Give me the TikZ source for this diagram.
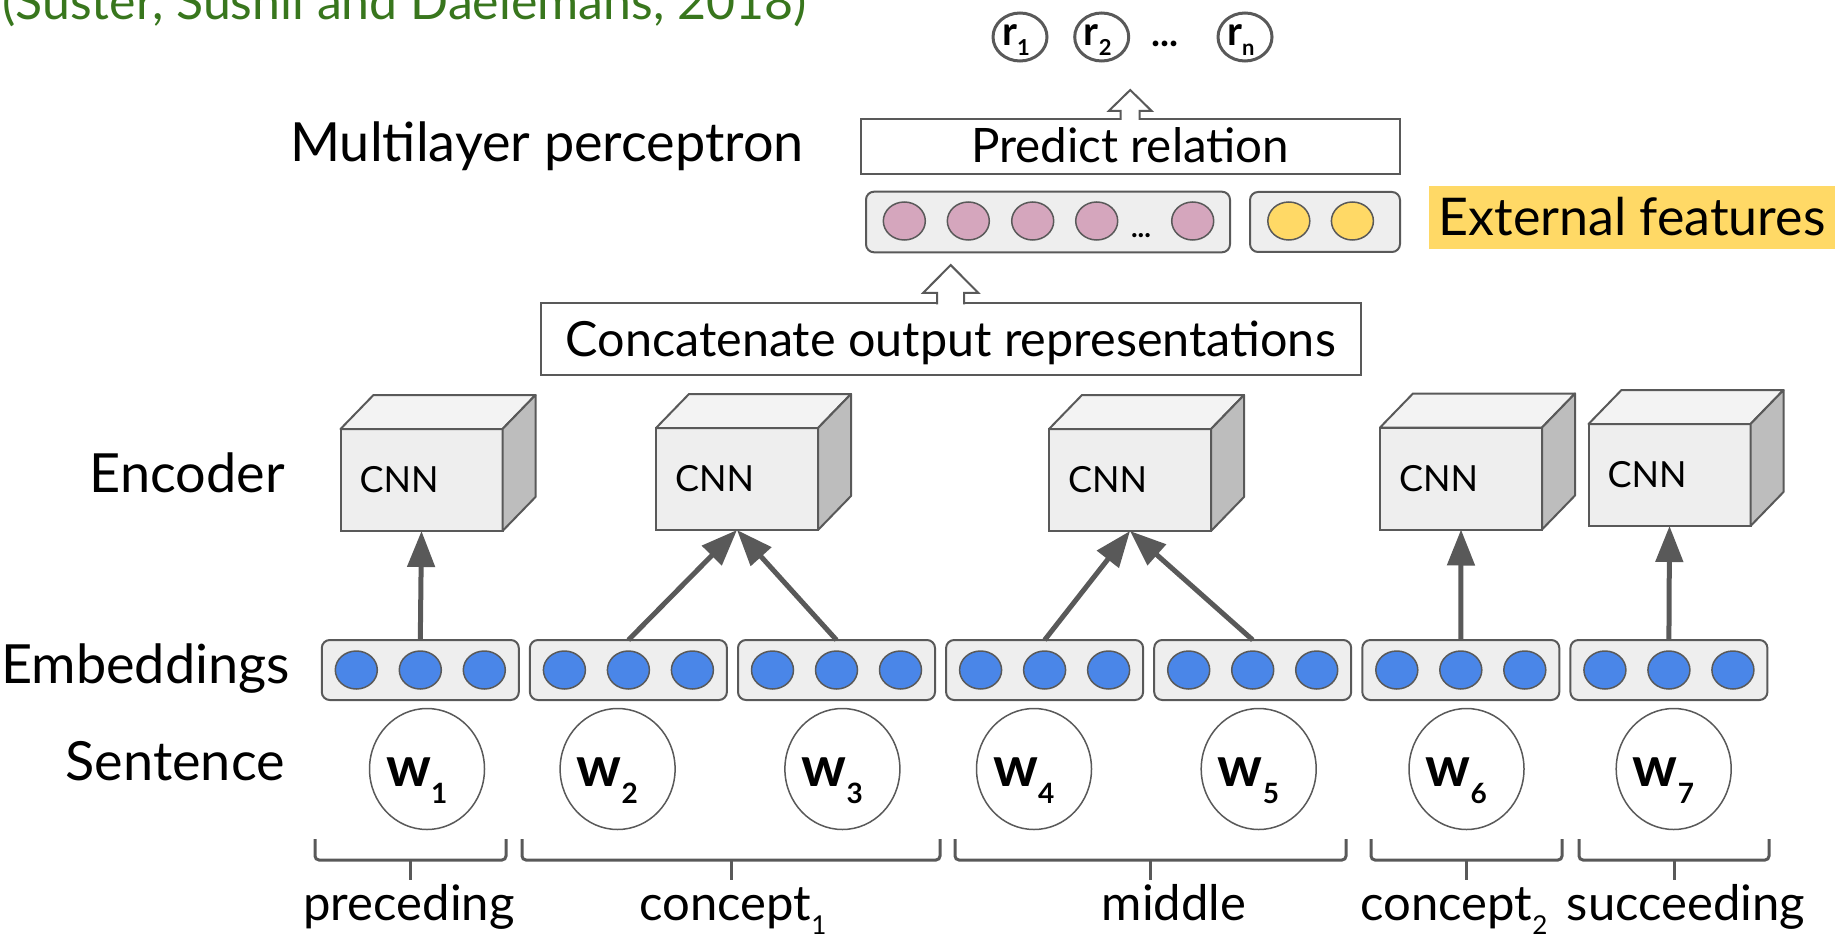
\documentclass[tikz,border=0pt]{standalone}
\usepackage{fontspec}
\setmainfont{Lato}
\usepackage{tikz}
\usetikzlibrary{arrows.meta,shapes.geometric,calc}
\definecolor{linegray}{HTML}{595959}
\definecolor{boxgray}{HTML}{EEEEEE}
\definecolor{topgray}{HTML}{F3F3F3}
\definecolor{sidegray}{HTML}{BDBDBD}
\definecolor{embblue}{HTML}{4A86E8}
\definecolor{featpink}{HTML}{D5A6BD}
\definecolor{featyellow}{HTML}{FFD966}
\definecolor{citegreen}{HTML}{38761D}
\newcommand{\fsize}[1]{\fontsize{#1}{#1}\selectfont}
% lowered index: #1 drop, #2 size, #3 base text, #4 index
\newcommand{\subtext}[4]{#3\raisebox{-#1pt}{\fsize{#2}#4}}
\tikzstyle{citation}=[font=\fsize{50}, text=citegreen, anchor=base west, inner sep=0pt]
\tikzstyle{rowlabel}=[font=\fsize{54}, anchor=base east, inner sep=0pt]
\tikzstyle{plainbox}=[draw=linegray, line width=2pt, fill=white, inner sep=0pt, outer sep=0pt, font=\fsize{48.5}, text height=34pt, text depth=0pt]
\tikzstyle{cnnbox}=[draw=linegray, line width=2pt, fill=boxgray, minimum width=162pt, minimum height=102pt, text width=124pt, inner xsep=19pt, inner ysep=0pt, outer sep=0pt, align=left, font=\fsize{36}]
\tikzstyle{cubetop}=[draw=linegray, line width=2pt, fill=topgray, line join=round]
\tikzstyle{cubeside}=[draw=linegray, line width=2pt, fill=sidegray, line join=round]
\tikzstyle{embbox}=[draw=linegray, line width=2pt, fill=boxgray, rounded corners=8pt, minimum width=197pt, minimum height=60pt, inner sep=0pt, outer sep=0pt]
\tikzstyle{unit}=[ellipse, draw=linegray, line width=1.5pt, minimum width=42pt, minimum height=38pt, inner sep=0pt]
\tikzstyle{word}=[ellipse, draw=linegray, line width=1.5pt, fill=white, minimum width=115pt, minimum height=121pt, inner sep=0pt]
\tikzstyle{wordtext}=[font=\bfseries\fsize{56}, anchor=base west, inner sep=0pt]
\tikzstyle{rel}=[ellipse, draw=linegray, line width=3pt, minimum width=54pt, minimum height=48pt, inner sep=0pt]
\tikzstyle{reltext}=[font=\bfseries\fsize{40}, anchor=base west, inner sep=0pt]
\tikzstyle{edge}=[draw=linegray, line width=5pt, -{Triangle[length=36pt,width=27pt]}]
\tikzstyle{hollow}=[draw=linegray, line width=2pt, fill=white, line join=miter]
\tikzstyle{brace}=[draw=linegray, line width=3pt, rounded corners=4pt]
\tikzstyle{bracelabel}=[font=\fsize{49}, anchor=base, inner sep=0pt]
\tikzstyle{highlight}=[fill=featyellow, minimum width=406pt, minimum height=63pt, inner sep=0pt, font=\fsize{52}, text height=36pt, text depth=0pt]

\begin{document}
\begin{tikzpicture}[x=1pt, y=-1pt]
    \useasboundingbox (0,0) rectangle (1835,941);

    % Reference, cut off at the top
    \node[citation] (cite) at (2,20) {(Šuster, Sushil and Daelemans, 2018)};

    % First we draw the row labels
    \node[rowlabel, anchor=base] (mlp) at (547,161.7) {Multilayer perceptron};
    \foreach \pos/\name/\text in {{(285,492.7)/encoder/Encoder},{(290,683.3)/embeddings/Embeddings},{(285,780)/sentence/Sentence}}
        \node[rowlabel] (\name) at \pos {\text};

    % Sentence: the words
    \foreach \x/\i in {427/1, 617.6/2, 842.4/3, 1034/4, 1258.7/5, 1466.5/6, 1673.7/7} {
        \node[word] (w\i) at (\x,769) {};
        \node[wordtext] (wt\i) at ($(w\i)+(-41,17)$) {\subtext{17}{28}{w}{\i}};
    }

    % Embeddings: three units per word
    \foreach \i in {1,...,7} {
        \node[embbox] (e\i) at ({212.2+208.1*\i},670) {};
        \foreach \j/\dx in {a/-64, b/0, c/64}
            \node[unit, fill=embblue] (e\i\j) at ($(e\i)+(\dx,0)$) {};
    }

    % Encoder: one CNN per segment
    \foreach \pos/\name in {{(421.5,480)/cnn1},{(737,479)/cnn2},{(1130,480)/cnn3},{(1461,478.5)/cnn4},{(1669.5,475)/cnn5}} {
        \node[cnnbox] (\name) at \pos {CNN};
        \path[cubetop] (\name.north west) -- ++(33,-34) -- ($(\name.north east)+(33,-34)$) -- (\name.north east) -- cycle;
        \path[cubeside] (\name.north east) -- ++(33,-34) -- ($(\name.south east)+(33,-34)$) -- (\name.south east) -- cycle;
    }

    % Connect embeddings with the encoders
    \foreach \source/\dest in {e1/cnn1, e2/cnn2, e3/cnn2, e4/cnn3, e5/cnn3, e6/cnn4, e7/cnn5}
        \path[edge] (\source.north) -- (\dest.south);

    % Braces under the words
    \foreach \l/\r/\m in {315/506/410, 522/940/731, 955/1346/1150, 1371/1562/1466, 1579/1769/1674} {
        \path[brace] (\l,839) -- (\l,860) -- (\r,860) -- (\r,839);
        \path[brace] (\m,860) -- (\m,880);
    }
    \node[bracelabel] (preceding) at (409,920) {preceding};
    \node[bracelabel] (concept1) at (733,920) {\subtext{14}{26}{concept}{1}};
    \node[bracelabel] (middle) at (1174,920) {middle};
    \node[bracelabel] (concept2) at (1454,920) {\subtext{14}{26}{concept}{2}};
    \node[bracelabel] (succeeding) at (1686,920) {succeeding};

    % Concatenation and prediction
    \node[plainbox, minimum width=820pt, minimum height=71.7pt] (concat) at (950.7,339.2) {Concatenate output representations};
    \node[plainbox, minimum width=539pt, minimum height=55pt, text height=32pt, font=\fsize{47.5}] (predict) at (1130.2,146.5) {Predict relation};

    % Output representation and external features
    \node[embbox, minimum width=364pt, minimum height=60.6pt] (feat) at (1048,222) {};
    \node[embbox, minimum width=150pt, minimum height=60pt] (ext) at (1325,222) {};
    \foreach \x/\name in {904.3/p1, 968.3/p2, 1032.7/p3, 1096.7/p4, 1192.7/p5}
        \node[unit, fill=featpink] (\name) at (\x,221) {};
    \node[font=\bfseries\fsize{28}, anchor=base, inner sep=0pt] (pdots) at (1141,237) {...};
    \foreach \x/\name in {1288.8/y1, 1352.4/y2}
        \node[unit, fill=featyellow] (\name) at (\x,221) {};
    \node[highlight] (extlabel) at (1632,217.7) {External features};

    % Relation classes
    \foreach \x/\i in {1020/1, 1101.7/2, 1245/n} {
        \node[rel] (r\i) at (\x,37) {};
        \node[reltext] (rt\i) at ($(r\i)+(-18,9)$) {\subtext{10}{22}{r}{\i}};
    }
    \node[reltext, anchor=base, font=\bfseries\fsize{38}] (rdots) at (1165,47) {...};

    % Hollow arrows between the stages
    \draw[hollow] ($(concat.north)+(-13.5,1)$) -- ++(0,-11.6) -- ++(-14,0) -- ++(27.5,-27.7) -- ++(27.5,27.7) -- ++(-14,0) -- ++(0,11.6);
    \draw[hollow] ($(predict.north)+(-9.5,1)$) -- ++(0,-9) -- ++(-12,0) -- ++(21.5,-21) -- ++(21.5,21) -- ++(-12,0) -- ++(0,9);
\end{tikzpicture}
\end{document}
